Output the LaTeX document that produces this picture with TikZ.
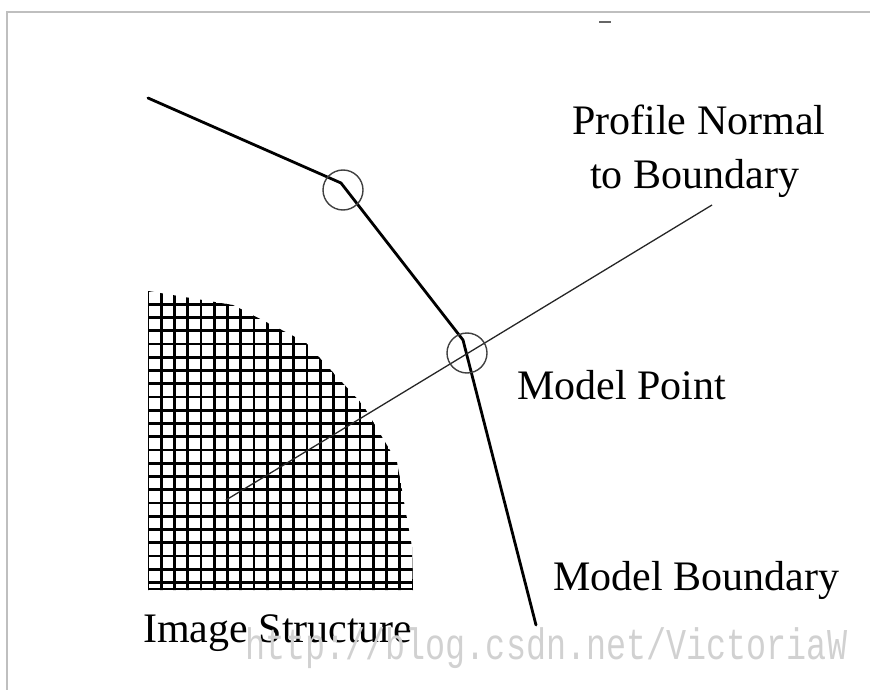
\documentclass[tikz,border=0pt]{standalone}
\usepackage{fontspec}
\setmainfont{Liberation Serif}
\newfontfamily\wmfont{Liberation Mono}
\begin{document}
\begin{tikzpicture}[x=1pt,y=-1pt]
\tikzset{
 lbl/.style={font=\fontsize{42}{52}\selectfont, inner sep=0pt, anchor=base west},
 bnd/.style={line width=2.8pt, line join=round, line cap=round},
 ring/.style={draw=black!75, line width=1.4pt, circle, minimum size=40pt, inner sep=0pt},
 prof/.style={line width=1.3pt, draw=black!85},
 gridln/.style={line width=2.7pt},
 frameln/.style={draw=black!25, line width=2pt}
}
\useasboundingbox (0,0) rectangle (870,690);
% frame
\draw[frameln] (7,700) -- (7,12) -- (880,12);
\draw[black!60, line width=2pt] (599,22) -- (611,22);
% image structure (grid)
\begin{scope}
\clip (148,291) -- (233,305) -- (305,342) -- (363,405) -- (397,462) -- (412,547) -- (413,590) -- (148,590) -- cycle;
\foreach \k in {0,...,20} {\draw[gridln] ({148+13.25*\k},285) -- ({148+13.25*\k},595);}
\foreach \k in {0,...,22} {\draw[gridln] (140,{291+13.25*\k}) -- (420,{291+13.25*\k});}
\draw[gridln] (140,589) -- (420,589);
\end{scope}
% model boundary
\coordinate (b0) at (148,98);
\coordinate (b1) at (341,183);
\coordinate (b2) at (463,340);
\coordinate (b3) at (536,625);
\draw[bnd] (b0) -- (b1) -- (b2) -- (b3);
% profile normal
\coordinate (p0) at (226,500);
\coordinate (p1) at (712,205);
\draw[prof] (p0) -- (p1);
% model points
\node[ring] (c1) at (343,190) {};
\node[ring] (c2) at (467,353) {};
% labels
\node[lbl] (pn1) at (572,135) {Profile Normal};
\node[lbl] (pn2) at (590,188) {to Boundary};
\node[lbl] (mp) at (517,399) {Model Point};
\node[lbl] (mb) at (553,590) {Model Boundary};
\node[lbl] (is) at (143,642) {Image Structure};
\node[anchor=base west, inner sep=0pt, text=black!18, font=\wmfont\fontsize{44}{44}\selectfont] (wm) at (245,659) {\scalebox{0.76}[1]{http://blog.csdn.net/VictoriaW}};
\end{tikzpicture}
\end{document}
